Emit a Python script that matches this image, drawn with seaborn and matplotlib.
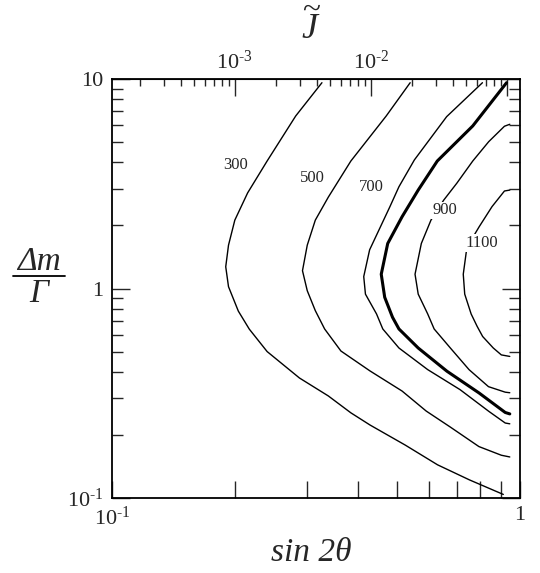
import numpy as np
import pandas as pd
import matplotlib
matplotlib.use('Agg')
import matplotlib.pyplot as plt
import seaborn as sns
from matplotlib.lines import Line2D
from matplotlib.ticker import FixedLocator, NullFormatter


# contour lines: (sin 2theta, dm/Gamma) pairs
levels = [300, 500, 700, 800, 900, 1100]

x_300 = [0.327, 0.282, 0.240, 0.215, 0.200, 0.193, 0.190, 0.193, 0.204, 0.217,
         0.240, 0.288, 0.339, 0.385, 0.429, 0.523, 0.628, 0.752, 0.910]
y_300 = [9.6, 6.66, 4.06, 2.86, 2.12, 1.61, 1.27, 1.02, 0.78, 0.64,
         0.50, 0.374, 0.307, 0.255, 0.223, 0.179, 0.144, 0.122, 0.104]

x_500 = [0.538, 0.470, 0.385, 0.339, 0.315, 0.301, 0.293, 0.301, 0.315, 0.332,
         0.364, 0.429, 0.514, 0.589, 0.675, 0.793, 0.900, 0.944]
y_500 = [9.6, 6.66, 4.06, 2.73, 2.12, 1.61, 1.216, 0.976, 0.784, 0.641,
         0.503, 0.404, 0.324, 0.260, 0.218, 0.176, 0.160, 0.157]

x_700 = [0.809, 0.661, 0.551, 0.505, 0.480, 0.428, 0.414, 0.418, 0.445,
         0.461, 0.505, 0.594, 0.713, 0.839, 0.920, 0.944]
y_700 = [9.6, 6.61, 4.11, 3.06, 2.46, 1.53, 1.14, 0.94, 0.756,
         0.641, 0.520, 0.410, 0.329, 0.259, 0.228, 0.226]

x_800 = [0.927, 0.766, 0.627, 0.563, 0.514, 0.474, 0.457, 0.466, 0.487, 0.505,
         0.563, 0.662, 0.794, 0.920, 0.944]
y_800 = [9.6, 5.97, 4.06, 2.95, 2.20, 1.64, 1.17, 0.908, 0.729, 0.641,
         0.520, 0.403, 0.317, 0.256, 0.252]

x_900 = [0.944, 0.916, 0.838, 0.766, 0.700, 0.650, 0.605, 0.573, 0.553, 0.563,
         0.594, 0.616, 0.675, 0.750, 0.837, 0.920, 0.944]
y_900 = [6.08, 5.95, 5.02, 4.06, 3.18, 2.64, 2.12, 1.64, 1.17, 0.94,
         0.756, 0.641, 0.520, 0.410, 0.340, 0.320, 0.318]

x_1100 = [0.944, 0.916, 0.854, 0.794, 0.759, 0.739, 0.726, 0.732, 0.759, 0.785,
          0.810, 0.860, 0.900, 0.944]
y_1100 = [2.95, 2.92, 2.46, 1.97, 1.70, 1.51, 1.17, 0.94, 0.756, 0.660,
          0.590, 0.520, 0.482, 0.474]

# label positions for the contour values
label_text = ['300', '500', '700', '900', '1100']
label_x = [0.201, 0.309, 0.433, 0.653, 0.807]
label_y = [3.89, 3.37, 3.05, 2.36, 1.65]

xs_all = [x_300, x_500, x_700, x_800, x_900, x_1100]
ys_all = [y_300, y_500, y_700, y_800, y_900, y_1100]

sns.set_style('ticks')
plt.rcParams['font.family'] = ['Liberation Serif', 'DejaVu Serif']
plt.rcParams['mathtext.fontset'] = 'custom'
plt.rcParams['mathtext.rm'] = 'Liberation Serif'
plt.rcParams['mathtext.it'] = 'Liberation Serif:italic'
plt.rcParams['mathtext.bf'] = 'Liberation Serif:bold'
plt.rcParams['xtick.direction'] = 'in'
plt.rcParams['ytick.direction'] = 'in'

fig = plt.figure(figsize=(5.4, 5.73), dpi=100)
ax = fig.add_axes([112 / 540, 1 - 498 / 573, 408 / 540, 419 / 573])
ax.set_xscale('log')
ax.set_yscale('log')

for lvl, xs, ys in zip(levels, xs_all, ys_all):
    lw = 2.2 if lvl == 800 else 1.0
    sns.lineplot(x=xs, y=ys, sort=False, estimator=None, color='black',
                 linewidth=lw, ax=ax)

for t, lx, ly in zip(label_text, label_x, label_y):
    ax.text(lx, ly, t, fontsize=12, ha='center', va='center', zorder=5,
            bbox=dict(facecolor='white', edgecolor='none', pad=0.5))

ax.set_xlim(0.1, 1)
ax.set_ylim(0.1, 10)

# bottom axis
ax.xaxis.set_major_locator(FixedLocator([0.1, 1]))
ax.set_xticklabels([r'$10^{\text{-}1}$', '1'], fontsize=16)
ax.xaxis.set_minor_locator(FixedLocator([0.2, 0.3, 0.4, 0.5, 0.6, 0.7, 0.8, 0.9]))
ax.xaxis.set_minor_formatter(NullFormatter())

# left axis
ax.yaxis.set_major_locator(FixedLocator([0.1, 1, 10]))
ax.set_yticklabels([r'$10^{\text{-}1}$', '1', '10'], fontsize=16)
ax.yaxis.set_minor_locator(FixedLocator([0.2, 0.3, 0.4, 0.5, 0.6, 0.7, 0.8, 0.9,
                                         2, 3, 4, 5, 6, 7, 8, 9]))
ax.yaxis.set_minor_formatter(NullFormatter())

ax.xaxis.set_tick_params(which='both', direction='in', top=False, bottom=True,
                         width=1.0, length=12, pad=6)
ax.yaxis.set_tick_params(which='both', direction='in', left=True, right=True,
                         labelright=False, width=1.0, pad=6)
ax.yaxis.set_tick_params(which='major', length=13)
ax.yaxis.set_tick_params(which='minor', length=8)
for s in ax.spines.values():
    s.set_linewidth(1.3)
    s.set_color('black')


# top axis: J tilde = (sin 2theta)^3 / 8
def to_j(s):
    return np.asarray(s, dtype=float) ** 3 / 8


def from_j(j):
    return np.cbrt(8 * np.asarray(j, dtype=float))


sec = ax.secondary_xaxis('top', functions=(to_j, from_j))
sec.xaxis.set_major_locator(FixedLocator([1e-3, 1e-2, 1e-1]))
sec.set_xticklabels([r'$10^{\text{-}3}$', r'$10^{\text{-}2}$', ''], fontsize=16)
j_minor = [m * 10.0 ** e for e in (-4, -3, -2) for m in range(2, 10)]
sec.xaxis.set_minor_locator(FixedLocator(j_minor))
sec.xaxis.set_minor_formatter(NullFormatter())
sec.tick_params(which='both', direction='in', width=1.0, pad=4)
sec.tick_params(which='major', length=12)
sec.tick_params(which='minor', length=5)

# axis titles
fig.text(311 / 540, 1 - 553 / 573, 'sin 2θ', fontsize=24, fontstyle='italic',
         ha='center', va='center')
fig.text(311 / 540, 1 - 28 / 573, r'$\widetilde{J}$', fontsize=26,
         ha='center', va='center')
fig.text(39 / 540, 1 - 262 / 573, 'Δm', fontsize=24, fontstyle='italic',
         ha='center', va='center')
fig.text(39 / 540, 1 - 294 / 573, 'Γ', fontsize=24, fontstyle='italic',
         ha='center', va='center')
fig.add_artist(Line2D([13 / 540, 65 / 540], [1 - 276 / 573, 1 - 276 / 573],
                      transform=fig.transFigure, color='black', linewidth=1.3))

fig.savefig('out.png', dpi=100)
